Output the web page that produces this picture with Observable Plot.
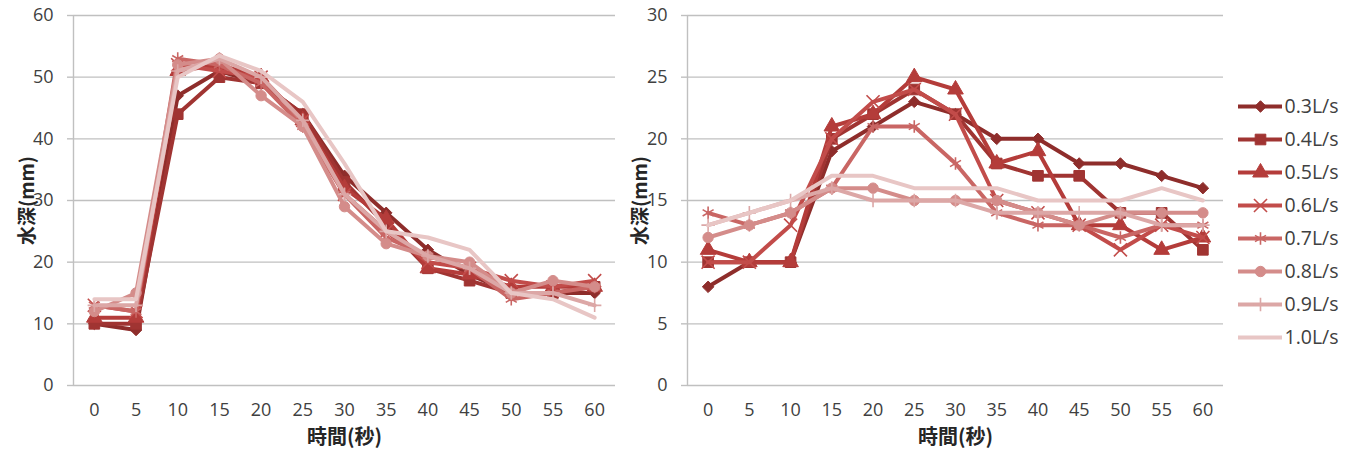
<!DOCTYPE html>
<html>
<head>
<meta charset="utf-8">
<script src="https://cdn.jsdelivr.net/npm/d3@7"></script>
<script src="https://cdn.jsdelivr.net/npm/@observablehq/plot@0.6"></script>
<style>
  html, body { margin: 0; padding: 0; background: #fff; }
  #wrap { position: relative; width: 1353px; height: 459px; overflow: hidden; }
  #wrap > div { position: absolute; top: 0; }
</style>
</head>
<body>
<div id="wrap">
  <div id="left" style="left:0px"></div>
  <div id="right" style="left:620px"></div>
  <div id="legend" style="left:1226px"></div>
</div>
<script>
// ---- data ----
const times = [0, 5, 10, 15, 20, 25, 30, 35, 40, 45, 50, 55, 60];
const yTicksLeft = [0, 10, 20, 30, 40, 50, 60];
const yTicksRight = [0, 5, 10, 15, 20, 25, 30];
const seriesNames = ["0.3L/s", "0.4L/s", "0.5L/s", "0.6L/s", "0.7L/s", "0.8L/s", "0.9L/s", "1.0L/s"];
const seriesColors = ["#8e2d2b", "#a03432", "#b43c3a", "#c24c4a", "#c96664", "#d48c8a", "#dca7a6", "#e8c6c5"];
const seriesSymbols = ["diamond2", "square", "triangle", "times", "asterisk", "circle", "plus", null];
const seriesFilled = [true, true, true, false, false, true, false, false];
const symbolRadius = [5.2, 6, 5.8, 6, 6, 5.2, 4.4, 0];
const yLabel = "水深(mm)";
const xLabel = "時間(秒)";

// left chart
const left03 = [10, 9, 47, 51, 49, 44, 34, 28, 22, 18, 15, 15, 15];
const left04 = [10, 10, 44, 50, 49, 44, 33, 26, 19, 17, 15, 15, 16];
const left05 = [11, 11, 51, 52, 50, 43, 32, 27, 19, 18, 16, 16, 16];
const left06 = [13, 12, 52, 51, 50, 43, 31, 25, 20, 19, 17, 16, 17];
const left07 = [13, 12, 53, 52, 49, 42, 31, 24, 21, 19, 14, 15, 16];
const left08 = [12, 15, 52, 53, 47, 42, 29, 23, 21, 20, 15, 17, 16];
const left09 = [13, 13, 51, 53, 50, 43, 31, 25, 21, 19, 15, 15, 13];
const left10 = [14, 14, 50, 53.5, 51, 46, 36, 25, 24, 22, 15, 14, 11];

// right chart
const right03 = [8, 10, 10, 19, 21, 23, 22, 20, 20, 18, 18, 17, 16];
const right04 = [10, 10, 10, 20, 22, 24, 22, 18, 17, 17, 14, 14, 11];
const right05 = [11, 10, 10, 21, 22, 25, 24, 18, 19, 13, 13, 11, 12];
const right06 = [10, 10, 13, 20, 23, 24, 22, 15, 14, 13, 11, 13, 12];
const right07 = [14, 13, 14, 16, 21, 21, 18, 14, 13, 13, 12, 13, 13];
const right08 = [12, 13, 14, 16, 16, 15, 15, 15, 14, 13, 14, 14, 14];
const right09 = [13, 14, 15, 16, 15, 15, 15, 14, 14, 14, 14, 13, 13];
const right10 = [13, 14, 15, 17, 17, 16, 16, 16, 15, 15, 15, 16, 15];

const FONT = "'Open Sans', 'Noto Sans CJK JP', sans-serif";
const CJK = "'Noto Sans CJK JP', sans-serif";
const GRID = "#c0c0c0";
const TEXT = "#404040";
const LINE_W = 4;

function seriesMarks(list) {
  const marks = [];
  list.forEach((vals, i) => {
    const data = times.map((t, j) => ({t, v: vals[j]}));
    marks.push(Plot.line(data, {x: "t", y: "v", stroke: seriesColors[i], strokeWidth: LINE_W, strokeLinejoin: "round", strokeLinecap: "round"}));
    if (seriesSymbols[i]) {
      marks.push(Plot.dot(data, {
        x: "t", y: "v", symbol: seriesSymbols[i], r: symbolRadius[i],
        fill: seriesFilled[i] ? seriesColors[i] : "none",
        stroke: seriesColors[i], strokeWidth: seriesFilled[i] ? 1 : 1.6
      }));
    }
  });
  return marks;
}

function chart({width, marginLeft, marginRight, yMax, yTicks, list, titleDx}) {
  return Plot.plot({
    width, height: 459, marginLeft, marginRight, marginTop: 15, marginBottom: 74,
    x: {domain: [-2.5, 62.5]},
    y: {domain: [0, yMax]},
    style: {fontFamily: FONT, fontSize: "18px", color: TEXT, background: "transparent"},
    marks: [
      Plot.ruleY(yTicks, {y: d => d, stroke: GRID, strokeWidth: 1.4}),
      Plot.ruleX([-2.5], {stroke: GRID, strokeWidth: 1.4}),
      Plot.axisY({ticks: yTicks, tickSize: 6, tickPadding: 14, stroke: GRID, strokeWidth: 1.4, fill: TEXT, fontSize: 18, label: null}),
      Plot.axisX({ticks: times, tickSize: 0, tickPadding: 18, fill: TEXT, fontSize: 18, label: null, tickFormat: d => String(d)}),
      ...seriesMarks(list),
      Plot.text([yLabel], {frameAnchor: "left", textAnchor: "middle", rotate: -90, dx: titleDx, fontWeight: "bold", fontSize: 19, fontFamily: CJK, fill: "#262626"}),
      Plot.text([xLabel], {frameAnchor: "bottom", textAnchor: "middle", dy: 58, fontWeight: "bold", fontSize: 20, fontFamily: CJK, fill: "#262626"})
    ]
  });
}

document.getElementById("left").append(chart({
  width: 620, marginLeft: 73, marginRight: 5, yMax: 60, yTicks: yTicksLeft, titleDx: -46,
  list: [left03, left04, left05, left06, left07, left08, left09, left10]
}));
document.getElementById("right").append(chart({
  width: 606, marginLeft: 67, marginRight: 3, yMax: 30, yTicks: yTicksRight, titleDx: -47,
  list: [right03, right04, right05, right06, right07, right08, right09, right10]
}));

// legend
const legendMarks = [];
seriesNames.forEach((name, i) => {
  legendMarks.push(Plot.ruleY([name], {y: d => d, x1: 12, x2: 56, stroke: seriesColors[i], strokeWidth: LINE_W}));
  if (seriesSymbols[i]) {
    legendMarks.push(Plot.dot([name], {
      x: 34, y: d => d, symbol: seriesSymbols[i], r: symbolRadius[i],
      fill: seriesFilled[i] ? seriesColors[i] : "none",
      stroke: seriesColors[i], strokeWidth: seriesFilled[i] ? 1 : 1.6
    }));
  }
  legendMarks.push(Plot.text([name], {x: 58, y: d => d, text: d => d, textAnchor: "start", fontSize: 19.5, fill: TEXT}));
});
document.getElementById("legend").append(Plot.plot({
  width: 127, height: 459, marginLeft: 0, marginRight: 0, marginTop: 0, marginBottom: 0,
  x: {domain: [0, 127], range: [0, 127], axis: null},
  y: {type: "point", domain: seriesNames, range: [87, 356], axis: null},
  style: {fontFamily: FONT, fontSize: "18px", color: TEXT, background: "transparent"},
  marks: legendMarks
}));
</script>
</body>
</html>
